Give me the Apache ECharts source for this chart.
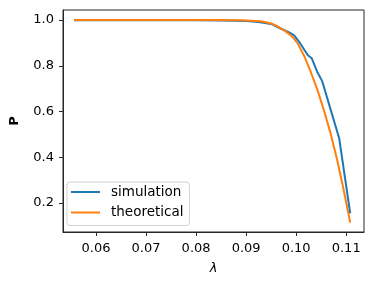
<!DOCTYPE html>
<html>
<head>
<meta charset="utf-8">
<script src="https://cdn.jsdelivr.net/npm/echarts@6/dist/echarts.min.js"></script>
<style>html,body{margin:0;padding:0;background:#fff;}#c{width:374px;height:284px;}</style>
</head>
<body>
<div id="c"></div>
<script>
// simulation
const simLambda = [0.0556, 0.060, 0.065, 0.070, 0.075, 0.080, 0.085, 0.088, 0.090, 0.0925, 0.0950, 0.0970, 0.0986, 0.0996, 0.1006, 0.1023, 0.1031, 0.1042, 0.1052, 0.1086, 0.1108];
const simP      = [0.999, 0.999, 0.999, 0.999, 0.999, 0.999, 0.998, 0.997, 0.996, 0.992, 0.983, 0.962, 0.946, 0.933, 0.905, 0.847, 0.833, 0.774, 0.733, 0.483, 0.155];
// theoretical
const theoLambda = [0.0556, 0.060, 0.065, 0.070, 0.075, 0.080, 0.085, 0.089, 0.0930, 0.0950, 0.0963, 0.0976, 0.0989, 0.0996, 0.1003, 0.1016, 0.1029, 0.1042, 0.1055, 0.1068, 0.1082, 0.1095, 0.1108];
const theoP      = [1.000, 1.000, 1.000, 1.000, 1.000, 1.000, 1.000, 0.999, 0.995, 0.985, 0.972, 0.955, 0.934, 0.918, 0.898, 0.843, 0.774, 0.698, 0.609, 0.511, 0.388, 0.257, 0.114];
// ticks
const xTicks = [0.06, 0.07, 0.08, 0.09, 0.10, 0.11];
const xTickLabels = ['0.06', '0.07', '0.08', '0.09', '0.10', '0.11'];
const yTicks = [0.2, 0.4, 0.6, 0.8, 1.0];
const yTickLabels = ['0.2', '0.4', '0.6', '0.8', '1.0'];

const zip = (a, b) => a.map((v, i) => [v, b[i]]);
const font = 'DejaVu Sans';
const chart = echarts.init(document.getElementById('c'), null, {renderer: 'canvas'});
chart.setOption({
  animation: false,
  backgroundColor: '#fff',
  grid: {left: 60, right: 10, top: 10, bottom: 52, show: true, borderColor: '#262626', borderWidth: 1, backgroundColor: 'transparent'},
  xAxis: {
    type: 'value', min: 0.0534, max: 0.11356,
    name: 'λ', nameLocation: 'middle', nameGap: 30,
    nameTextStyle: {fontFamily: font, fontSize: 13, fontStyle: 'italic', color: '#000'},
    splitLine: {show: false},
    axisLine: {show: true, onZero: false, lineStyle: {color: '#262626', width: 1}},
    axisTick: {show: true, length: 4, lineStyle: {color: '#262626'}, customValues: xTicks},
    axisLabel: {fontFamily: font, fontSize: 13, color: '#000', margin: 10, customValues: xTicks,
      formatter: v => { const i = xTicks.findIndex(t => Math.abs(t - v) < 1e-9); return i >= 0 ? xTickLabels[i] : ''; }}
  },
  yAxis: {
    type: 'value', min: 0.073, max: 1.044,
    name: 'P', nameLocation: 'middle', nameGap: 42, nameRotate: 90,
    nameTextStyle: {fontFamily: font, fontSize: 13, fontWeight: 'bold', color: '#000'},
    splitLine: {show: false},
    axisLine: {show: true, onZero: false, lineStyle: {color: '#262626', width: 1}},
    axisTick: {show: true, length: 4, lineStyle: {color: '#262626'}, customValues: yTicks},
    axisLabel: {fontFamily: font, fontSize: 13, color: '#000', margin: 9, customValues: yTicks,
      formatter: v => { const i = yTicks.findIndex(t => Math.abs(t - v) < 1e-9); return i >= 0 ? yTickLabels[i] : ''; }}
  },
  legend: {
    orient: 'vertical', left: 67, top: 182,
    padding: [3, 6, 6, 4], itemGap: 6.5, itemWidth: 29, itemHeight: 2,
    backgroundColor: 'rgba(255,255,255,0.8)', borderColor: '#d0d0d0', borderWidth: 1, borderRadius: 3,
    textStyle: {fontFamily: font, fontSize: 13.5, color: '#000', padding: [0, 0, 0, 6]},
    data: [{name: 'simulation', icon: 'rect'}, {name: 'theoretical', icon: 'rect'}]
  },
  series: [
    {name: 'simulation', type: 'line', data: zip(simLambda, simP), showSymbol: false, symbol: 'none',
     lineStyle: {color: '#1f77b4', width: 2}, itemStyle: {color: '#1f77b4'}, z: 2},
    {name: 'theoretical', type: 'line', data: zip(theoLambda, theoP), showSymbol: false, symbol: 'none',
     lineStyle: {color: '#ff7f0e', width: 2}, itemStyle: {color: '#ff7f0e'}, z: 3}
  ]
});
</script>
</body>
</html>
